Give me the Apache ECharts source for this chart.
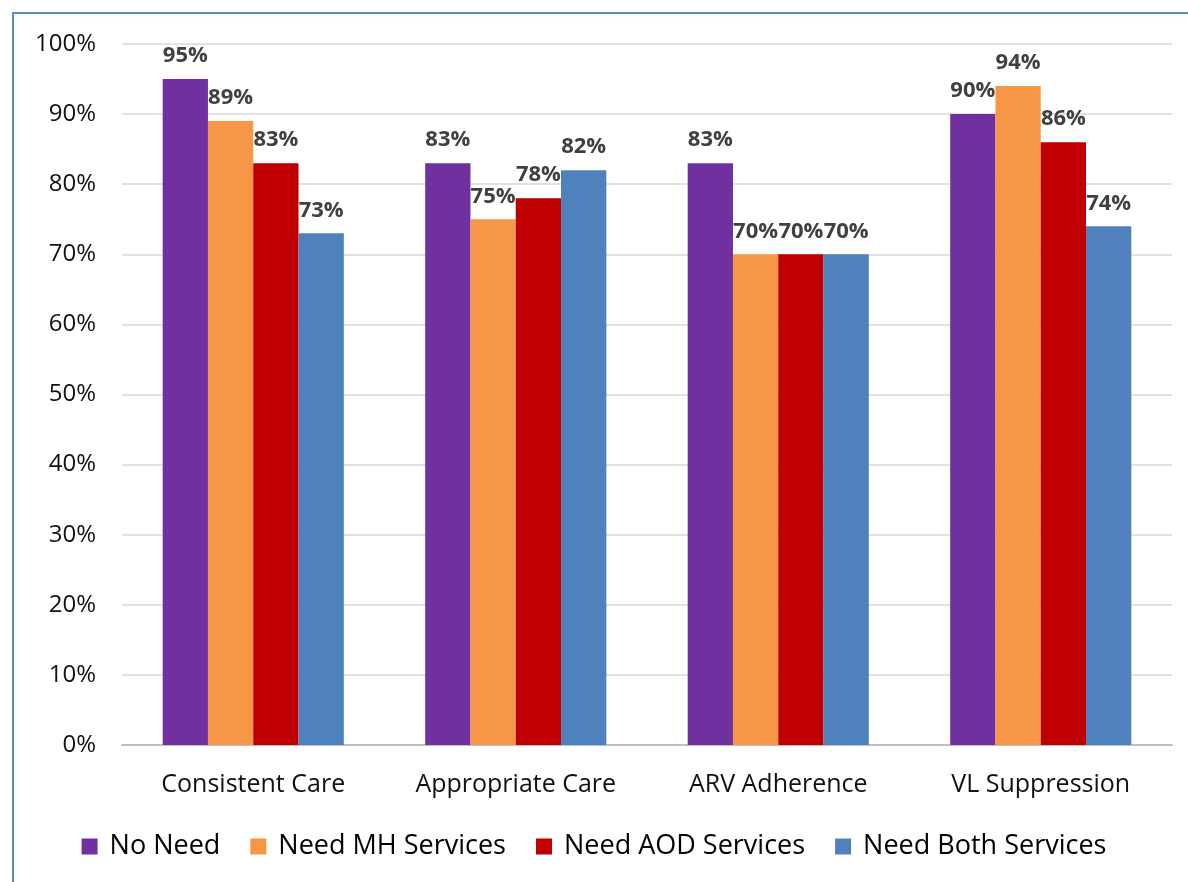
<!DOCTYPE html>
<html><head><meta charset="utf-8">
<script src="https://cdn.jsdelivr.net/npm/echarts@6/dist/echarts.min.js"></script>
<style>html,body{margin:0;padding:0;background:#fff}#c{width:1188px;height:882px}</style>
</head><body><div id="c"></div>
<script>
const categories = ["Consistent Care", "Appropriate Care", "ARV Adherence", "VL Suppression"];
const seriesNames = ["No Need", "Need MH Services", "Need AOD Services", "Need Both Services"];
const noNeed = [95, 83, 83, 90];
const needMH = [89, 75, 70, 94];
const needAOD = [83, 78, 70, 86];
const needBoth = [73, 82, 70, 74];
const colors = ["#7030A0", "#F79646", "#C00000", "#4F81BD"];
const yTicks = [0, 10, 20, 30, 40, 50, 60, 70, 80, 90, 100];

const data = [noNeed, needMH, needAOD, needBoth];
const font = "'Open Sans', 'Liberation Sans', sans-serif";
const chart = echarts.init(document.getElementById('c'));
chart.setOption({
  animation: false,
  color: colors,
  graphic: [{
    type: 'rect', shape: {x: 13, y: 13, width: 1200, height: 900},
    style: {fill: 'none', stroke: '#5B8BC9', lineWidth: 2}, silent: true, z: 0
  }],
  grid: {left: 122, right: 16, top: 44, bottom: 137},
  legend: {
    bottom: 17, left: 'center', itemWidth: 16, itemHeight: 16, itemGap: 30, icon: 'rect',
    textStyle: {fontFamily: font, fontSize: 27, color: '#000', padding: [0, 0, 0, 7]},
    data: seriesNames
  },
  xAxis: {
    type: 'category', data: categories,
    axisLine: {lineStyle: {color: '#BFBFBF', width: 2}},
    axisTick: {show: false},
    axisLabel: {fontFamily: font, fontSize: 25, color: '#111', margin: 27}
  },
  yAxis: {
    type: 'value', min: yTicks[0], max: yTicks[yTicks.length - 1], interval: 10,
    axisLabel: {fontFamily: font, fontSize: 24, color: '#111', margin: 26, formatter: v => v + '%'},
    axisLine: {show: false}, axisTick: {show: false},
    splitLine: {lineStyle: {color: '#D9D9D9', width: 1.5}}
  },
  series: seriesNames.map((n, i) => ({
    name: n, type: 'bar', data: data[i],
    barGap: '0%', barCategoryGap: '31%',
    label: {show: true, position: 'top', distance: 12, formatter: '{c}%',
      fontFamily: font, fontSize: 22, fontWeight: 'bold', color: '#404040'}
  }))
});
</script></body></html>
